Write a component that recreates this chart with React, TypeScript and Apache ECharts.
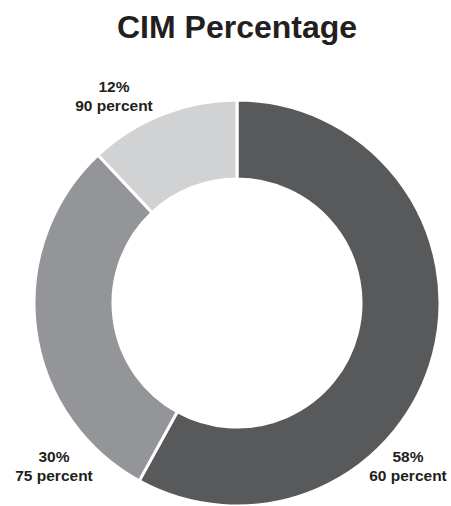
import React, { useEffect, useRef } from "react";
import * as echarts from "echarts";

const categories = ["A", "B", "C"];
const shares = [58, 30, 12];
const percents = [60, 75, 90];
const colors = ["#58595b", "#939598", "#d1d2d4"];
const labelPos = [
  [408, 466],
  [54, 466],
  [114, 96],
];

export default function App() {
  const ref = useRef<HTMLDivElement>(null);
  useEffect(() => {
    const chart = echarts.init(ref.current!, null, { renderer: "svg" });
    chart.setOption({
      animation: false,
      backgroundColor: "#ffffff",
      title: {
        text: "CIM Percentage",
        left: 112,
        top: 6,
        textStyle: {
          fontFamily: "Liberation Sans, Arial, sans-serif",
          fontSize: 32,
          fontWeight: "bold",
          color: "#231f20",
        },
      },
      series: [
        {
          type: "pie",
          center: [237, 303],
          radius: [124, 203],
          startAngle: 90,
          clockwise: true,
          avoidLabelOverlap: false,
          itemStyle: { borderColor: "#ffffff", borderWidth: 3 },
          label: {
            show: true,
            position: "inside",
            fontFamily: "Liberation Sans, Arial, sans-serif",
            fontSize: 15.5,
            fontWeight: "bold",
            color: "#231f20",
            lineHeight: 19,
            align: "center",
            formatter: (p: any) => `${shares[p.dataIndex]}%\n${percents[p.dataIndex]} percent`,
          },
          labelLine: { show: false },
          labelLayout: (p: any) => ({
            x: labelPos[p.dataIndex][0],
            y: labelPos[p.dataIndex][1],
            align: "center",
            verticalAlign: "middle",
          }),
          emphasis: { disabled: true },
          data: categories.map((c, i) => ({
            name: c,
            value: shares[i],
            itemStyle: { color: colors[i] },
          })),
        },
      ],
    });
    return () => chart.dispose();
  }, []);
  return (
    <div
      ref={ref}
      style={{ position: "fixed", left: 0, top: 0, width: 451, height: 506 }}
    />
  );
}
